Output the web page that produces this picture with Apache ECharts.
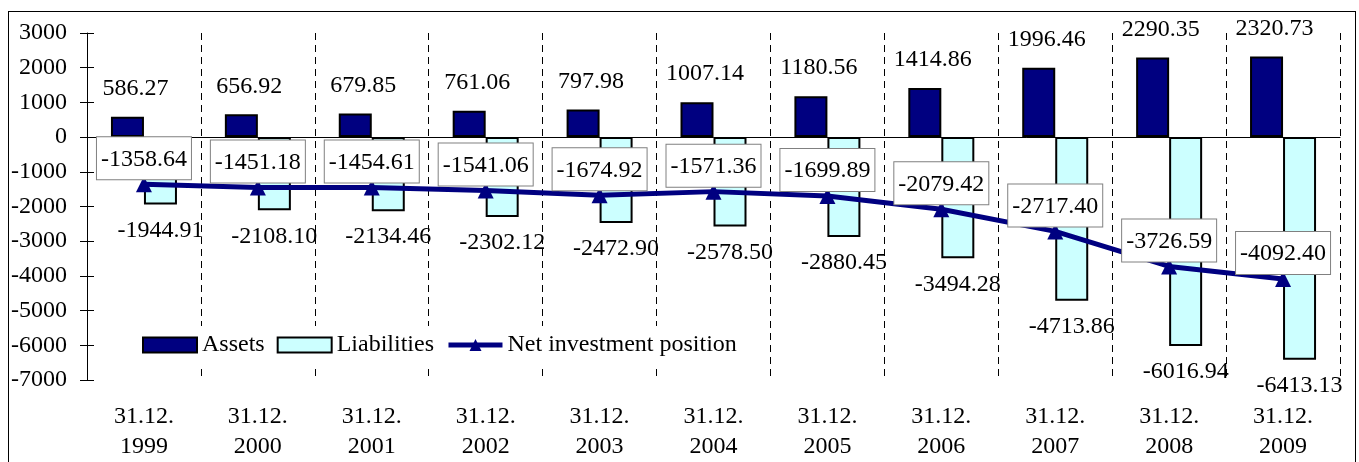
<!DOCTYPE html>
<html>
<head>
<meta charset="utf-8">
<script src="https://cdn.jsdelivr.net/npm/echarts@6/dist/echarts.min.js"></script>
<style>
  html, body { margin: 0; padding: 0; background: #fff; }
  #frame { position: absolute; left: 8px; top: 11px; width: 1346px; height: 460px; border: 1px solid #000; }
  #myChart { position: absolute; left: 0; top: 0; width: 1359px; height: 462px; }
</style>
</head>
<body>
<div id="frame"></div>
<div id="myChart"></div>
<script>
// categories and values
var categories = ['31.12.\n1999', '31.12.\n2000', '31.12.\n2001', '31.12.\n2002', '31.12.\n2003', '31.12.\n2004',
  '31.12.\n2005', '31.12.\n2006', '31.12.\n2007', '31.12.\n2008', '31.12.\n2009']
var assets = [586.27, 656.92, 679.85, 761.06, 797.98, 1007.14, 1180.56, 1414.86, 1996.46, 2290.35, 2320.73]
var liabilities = [-1944.91, -2108.10, -2134.46, -2302.12, -2472.90, -2578.50, -2880.45, -3494.28, -4713.86, -6016.94, -6413.13]
var netPosition = [-1358.64, -1451.18, -1454.61, -1541.06, -1674.92, -1571.36, -1699.89, -2079.42, -2717.40, -3726.59, -4092.40]

var font = 'Liberation Serif'
var fs = 24
var fmt = function (p) { return p.value.toFixed(2) }

var myChart = echarts.init(document.getElementById('myChart'))
var option = {
  animation: false,
  textStyle: { fontFamily: font },
  grid: { left: 87, right: 19, top: 33, bottom: 82 },
  legend: {
    left: 137,
    top: 326,
    padding: [7, 5],
    backgroundColor: '#fff',
    itemWidth: 54,
    itemHeight: 15,
    itemGap: 12,
    textStyle: { fontFamily: font, fontSize: fs, color: '#000' },
    data: [
      { name: 'Assets', icon: 'rect', itemStyle: { borderColor: '#000', borderWidth: 2 } },
      { name: 'Liabilities', icon: 'rect', itemStyle: { borderColor: '#000', borderWidth: 2 } },
      { name: 'Net investment position', lineStyle: { width: 5 } }
    ]
  },
  xAxis: [
    {
      type: 'category',
      data: categories,
      position: 'bottom',
      axisLine: { show: false },
      axisTick: { show: false },
      axisLabel: { fontFamily: font, fontSize: fs, color: '#000', lineHeight: 30, margin: 22, interval: 0 },
      splitLine: { show: true, interval: 0, lineStyle: { color: '#000', type: [7, 5], width: 1 } }
    },
    {
      // 零线
      type: 'category',
      data: categories,
      axisLine: { show: true, onZero: true, lineStyle: { color: '#000', width: 1 } },
      axisTick: { show: false },
      axisLabel: { show: false },
      splitLine: { show: false }
    }
  ],
  yAxis: [
    {
      type: 'value',
      min: -7000,
      max: 3000,
      interval: 1000,
      axisLine: { show: true, lineStyle: { color: '#000', width: 1 } },
      axisTick: { show: true, length: 7, lineStyle: { color: '#000' } },
      axisLabel: { fontFamily: font, fontSize: fs, color: '#000', margin: 20, formatter: function (v) { return String(v) } },
      splitLine: { show: false }
    },
    {
      // inside half of the cross ticks
      type: 'value',
      position: 'left',
      min: -7000,
      max: 3000,
      interval: 1000,
      axisLine: { show: false },
      axisTick: { show: true, inside: true, length: 7, lineStyle: { color: '#000' } },
      axisLabel: { show: false },
      splitLine: { show: false }
    }
  ],
  series: [
    {
      name: 'Assets',
      type: 'bar',
      barWidth: 33,
      barGap: '0%',
      data: assets,
      itemStyle: { color: '#000080', borderColor: '#000', borderWidth: 2 },
      label: { show: true, position: 'top', distance: 16, offset: [8, 0], formatter: fmt, fontFamily: font, fontSize: fs, color: '#000' }
    },
    {
      name: 'Liabilities',
      type: 'bar',
      barWidth: 33,
      data: liabilities,
      itemStyle: { color: '#CCFFFF', borderColor: '#000', borderWidth: 2 },
      label: { show: true, position: 'bottom', distance: 14, formatter: fmt, fontFamily: font, fontSize: fs, color: '#000' }
    },
    {
      name: 'Net investment position',
      type: 'line',
      data: netPosition,
      symbol: 'triangle',
      symbolSize: 16,
      z: 5,
      lineStyle: { color: '#000080', width: 5 },
      itemStyle: { color: '#000080' },
      label: {
        show: true,
        position: 'top',
        distance: -3,
        formatter: fmt,
        fontFamily: font,
        fontSize: fs,
        color: '#000',
        backgroundColor: '#fff',
        borderColor: '#808080',
        borderWidth: 1,
        padding: [10, 4, 8, 4]
      }
    }
  ]
}
myChart.setOption(option)
</script>
</body>
</html>
